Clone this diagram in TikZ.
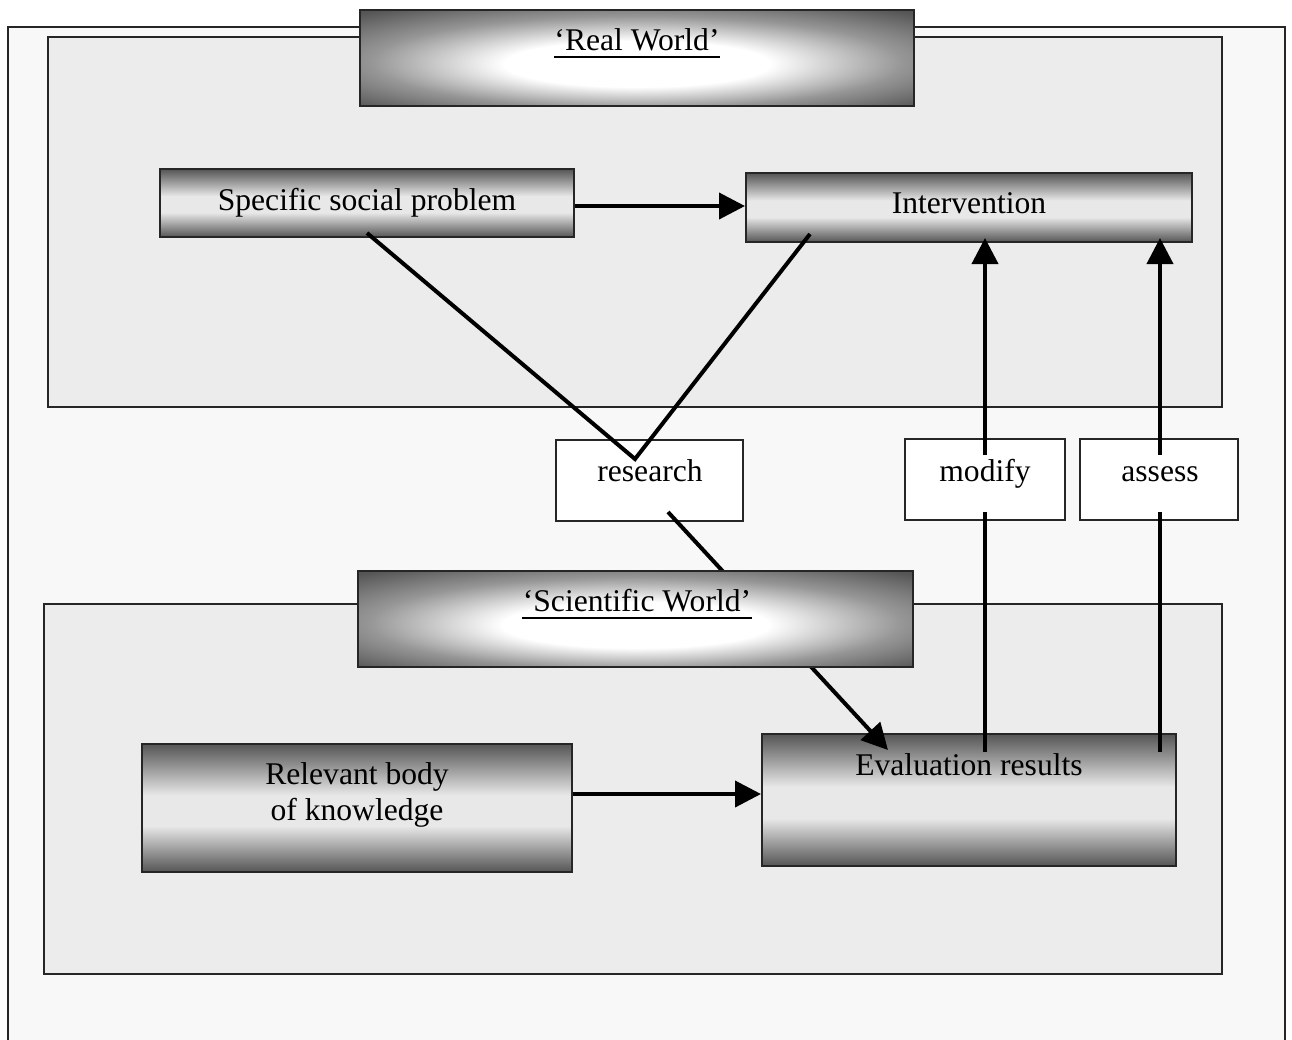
\documentclass[tikz,border=0pt]{standalone}
\usepackage{fontspec}
\setmainfont{Liberation Serif}
\usetikzlibrary{arrows.meta,fit}
\definecolor{darkg}{RGB}{85,85,85}
\definecolor{midg}{RGB}{150,150,150}
\definecolor{lightg}{RGB}{232,232,232}
\definecolor{panelg}{RGB}{236,236,236}
\definecolor{outerg}{RGB}{248,248,248}
\pgfdeclareradialshading{worldshade}{\pgfpoint{0bp}{-4bp}}{color(0bp)=(white); color(12bp)=(white); color(24bp)=(midg); color(35bp)=(darkg); color(50bp)=(darkg)}
\pgfdeclareverticalshading{barshade}{100bp}{color(0bp)=(darkg); color(25bp)=(darkg); color(33bp)=(midg); color(43bp)=(lightg); color(55bp)=(lightg); color(66bp)=(midg); color(75bp)=(darkg); color(100bp)=(darkg)}
\begin{document}
\begin{tikzpicture}[x=0.5pt,y=-0.5pt,
  txt/.style={font=\fontsize{15.8}{18}\selectfont, inner sep=0pt, anchor=base},
  panel/.style={draw=black!85, line width=1pt, fill=panelg, inner sep=0pt},
  box/.style={draw=black!85, line width=1pt, inner sep=0pt},
  barbox/.style={box, shading=barshade},
  worldbox/.style={box, shading=worldshade},
  plainbox/.style={box, fill=white},
  thk/.style={line width=2pt},
  uln/.style={line width=0.9pt},
  arr/.style={line width=2pt, -{Triangle[length=13pt,width=13pt]}}]
\useasboundingbox (0,0) rectangle (1292,1040);
% outer frame
\fill[outerg] (8,27) rectangle (1285,1040);
\draw[line width=1pt, black!85] (8,1040) -- (8,27) -- (1285,27) -- (1285,1040);
% panels
\node[panel, fit={(48,37) (1222,407)}] (realpanel) {};
\node[panel, fit={(44,604) (1222,974)}] (scipanel) {};
% white boxes
\node[plainbox, fit={(556,440) (743,521)}] (res) {};
\node[plainbox, fit={(905,439) (1065,520)}] (mod) {};
\node[plainbox, fit={(1080,439) (1238,520)}] (ass) {};
% shaded boxes (lower)
\node[barbox, fit={(142,744) (572,872)}] (rbk) {};
\node[barbox, fit={(762,734) (1176,866)}] (ev) {};
% connector hidden behind the Scientific World box
\coordinate (resfoot) at (668,512);
\coordinate (evtop) at (888,750);
\draw[arr] (resfoot) -- (evtop);
\node[worldbox, fit={(358,571) (913,667)}] (sw) {};
% upper shaded boxes
\node[worldbox, fit={(360,10) (914,106)}] (rw) {};
\node[barbox, fit={(160,169) (574,237)}] (ssp) {};
\node[barbox, fit={(746,173) (1192,242)}] (int) {};
% connectors
\coordinate (sspfoot) at (367,233);
\coordinate (apex) at (635,459);
\coordinate (intfoot) at (810,234);
\coordinate (modtop) at (985,455);
\coordinate (modbot) at (985,512);
\coordinate (evm) at (985,752);
\coordinate (asstop) at (1160,455);
\coordinate (assbot) at (1160,512);
\coordinate (eva) at (1160,752);
\draw[arr] (ssp.east |- 0,206) -- (int.west |- 0,206);
\draw[thk] (sspfoot) -- (apex) -- (intfoot);
\draw[arr] (modtop) -- (modtop |- 0,238);
\draw[arr] (asstop) -- (asstop |- 0,238);
\draw[thk] (evm) -- (modbot);
\draw[thk] (eva) -- (assbot);
\draw[arr] (rbk.east |- 0,794) -- (ev.west |- 0,794);
% texts
\node[txt] (rwt) at (637,50) {‘Real World’};
\draw[uln] ([yshift=-3.5pt]rwt.base west) -- ([yshift=-3.5pt]rwt.base east);
\node[txt] (swt) at (637,611) {‘Scientific World’};
\draw[uln] ([yshift=-3.5pt]swt.base west) -- ([yshift=-3.5pt]swt.base east);
\node[txt] (sspt) at (367,210) {Specific social problem};
\node[txt] (intt) at (969,213) {Intervention};
\node[txt] (rest) at (650,481) {research};
\node[txt] (modt) at (985,481) {modify};
\node[txt] (asst) at (1160,481) {assess};
\node[txt] (rbkt1) at (357,784) {Relevant body};
\node[txt] (rbkt2) at (357,820) {of knowledge};
\node[txt] (evt) at (969,775) {Evaluation results};
\end{tikzpicture}
\end{document}
